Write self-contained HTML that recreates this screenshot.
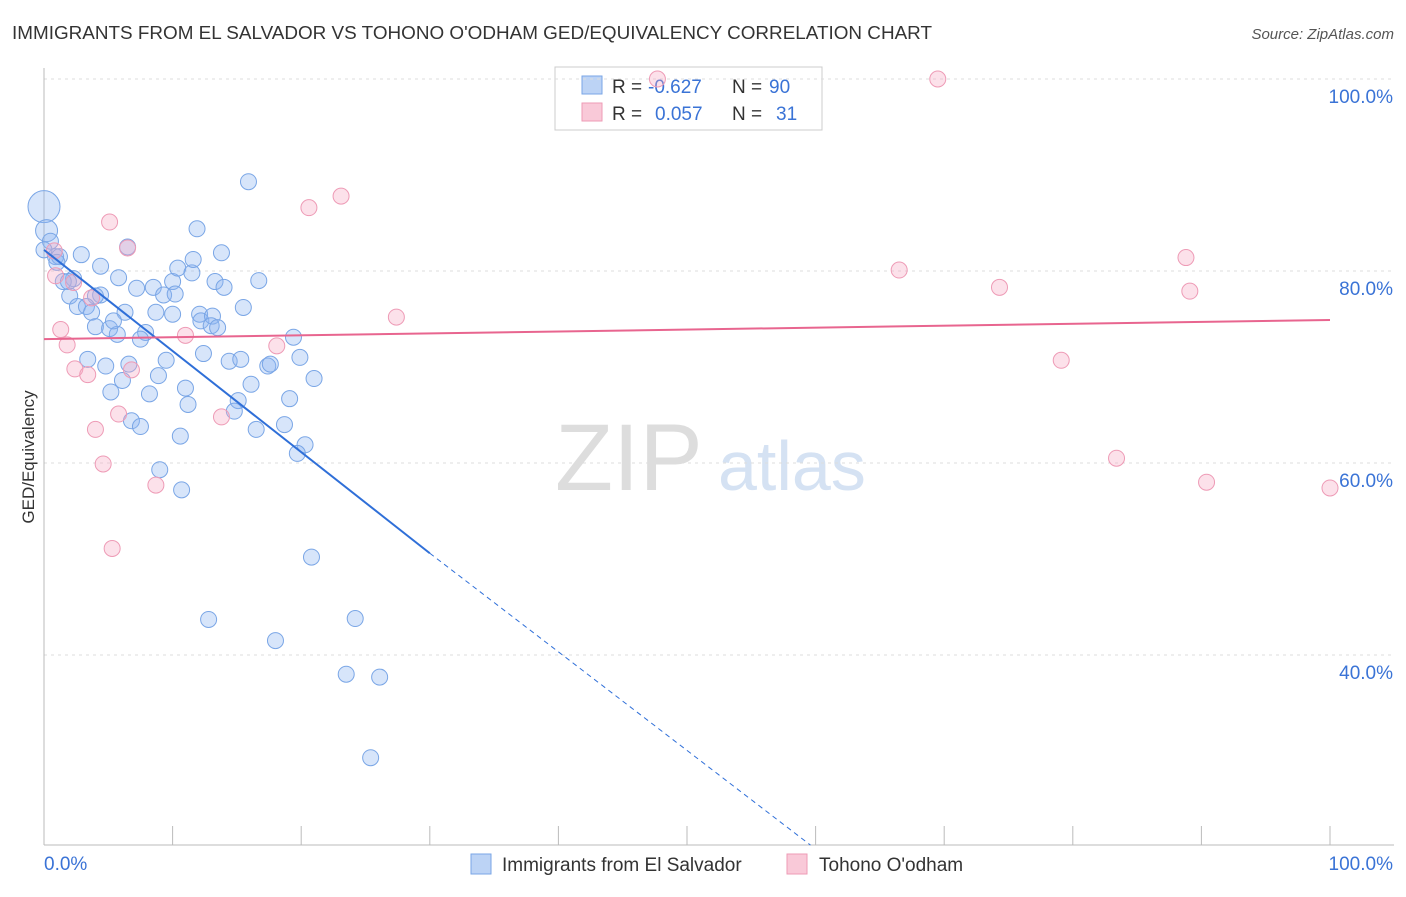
<!DOCTYPE html>
<html><head><meta charset="utf-8"><style>
body{margin:0;background:#fff;font-family:"Liberation Sans",sans-serif;}
svg text{font-family:"Liberation Sans",sans-serif;}
</style></head><body>
<svg id="c" width="1406" height="892">
<text x="12" y="39" font-size="18" fill="#333" textLength="920" lengthAdjust="spacingAndGlyphs">IMMIGRANTS FROM EL SALVADOR VS TOHONO O'ODHAM GED/EQUIVALENCY CORRELATION CHART</text>
<text x="1394" y="39" font-size="15" fill="#555" font-style="italic" text-anchor="end">Source: ZipAtlas.com</text>
<text x="555" y="490" font-size="95" fill="#ddd" font-family="Liberation Serif">ZIP</text>
<text x="718" y="490" font-size="70" fill="#d5e2f3">atlas</text>
<g>
<rect x="555" y="67" width="267" height="63" fill="#fff" stroke="#ccc"/>
<rect x="582" y="76" width="20" height="18" fill="#bcd3f5" stroke="#7aa6e6"/>
<rect x="582" y="103" width="20" height="18" fill="#f9c9d8" stroke="#ee9bb6"/>
<text x="612" y="93" font-size="19" fill="#333">R =</text>
<text x="648" y="93" font-size="19" fill="#3a73d6">-0.627</text>
<text x="732" y="93" font-size="19" fill="#333">N =</text>
<text x="769" y="93" font-size="19" fill="#3a73d6">90</text>
<text x="612" y="120" font-size="19" fill="#333">R =</text>
<text x="655" y="120" font-size="19" fill="#3a73d6">0.057</text>
<text x="732" y="120" font-size="19" fill="#333">N =</text>
<text x="776" y="120" font-size="19" fill="#3a73d6">31</text>
</g>
<g id="grid"></g><g id="marks"></g>
<text transform="translate(34,457) rotate(-90)" font-size="17" fill="#333" text-anchor="middle">GED/Equivalency</text>
<g>
<rect x="471" y="854" width="20" height="20" fill="#bcd3f5" stroke="#7aa6e6"/>
<text x="502" y="871" font-size="19" fill="#333">Immigrants from El Salvador</text>
<rect x="787" y="854" width="20" height="20" fill="#f9c9d8" stroke="#ee9bb6"/>
<text x="819" y="871" font-size="19" fill="#333">Tohono O'odham</text>
</g>
</svg>
<script>
const yTicks=[100,80,60,40];
const yTickLabels=["100.0%","80.0%","60.0%","40.0%"];
const xTickLabels=["0.0%","100.0%"];
const blueX=[0,0.2,0.5,0.9,1.2,2.9,4.4,5.8,2.3,1.5,1.9,2.0,4.4,4.0,2.6,3.3,3.7,4.0,5.1,5.7,6.3,5.4,7.2,8.5,9.3,10.0,10.2,10.4,11.5,11.6,11.9,13.8,13.3,14.0,15.9,16.7,15.5,10.0,8.7,7.9,7.5,12.1,12.2,13.1,13.0,13.5,3.4,4.8,6.6,9.5,8.9,6.1,5.2,8.2,11.0,11.2,12.4,14.4,15.3,17.4,17.6,19.4,19.9,21.0,16.1,15.1,14.8,19.1,18.7,16.5,20.3,19.7,6.8,7.5,10.6,9.0,10.7,20.8,24.2,12.8,18.0,23.5,26.1,25.4,0,1.0,6.5];
const blueY=[86.7,84.2,83.1,81.5,81.5,81.7,80.5,79.3,79.2,78.9,78.9,77.4,77.5,77.4,76.3,76.3,75.7,74.2,74.0,73.4,75.7,74.8,78.2,78.3,77.5,78.9,77.6,80.3,79.8,81.2,84.4,81.9,78.9,78.3,89.3,79.0,76.2,75.5,75.7,73.6,72.9,75.5,74.8,75.3,74.3,74.1,70.8,70.1,70.3,70.7,69.1,68.6,67.4,67.2,67.8,66.1,71.4,70.6,70.8,70.1,70.3,73.1,71.0,68.8,68.2,66.5,65.4,66.7,64.0,63.5,61.9,61.0,64.4,63.8,62.8,59.3,57.2,50.2,43.8,43.7,41.5,38.0,37.7,29.3,82.2,80.9,82.5];
const blueR=[];blueR[0]=16;blueR[1]=11;
const pinkX=[47.7,69.5,5.1,6.5,20.6,23.1,0.8,0.9,2.3,3.7,1.3,1.8,2.4,3.4,6.8,11.0,5.8,13.8,18.1,27.4,4.0,4.6,8.7,5.3,66.5,74.3,88.8,89.1,79.1,83.4,90.4,100];
const pinkY=[100,100,85.1,82.4,86.6,87.8,82.1,79.5,78.8,77.2,73.9,72.3,69.8,69.2,69.7,73.3,65.1,64.8,72.2,75.2,63.5,59.9,57.7,51.1,80.1,78.3,81.4,77.9,70.7,60.5,58.0,57.4];
const X=v=>44+v*12.86, Y=v=>79+(100-v)*9.6;
const ns="http://www.w3.org/2000/svg";
function mk(t,a,p){const e=document.createElementNS(ns,t);for(const k in a)e.setAttribute(k,a[k]);p.appendChild(e);return e;}
const g=document.getElementById('grid'), m=document.getElementById('marks');
yTicks.forEach((t,i)=>{
 const l=mk('line',{x1:44,x2:1394,y1:Y(t),y2:Y(t),stroke:'#ddd','stroke-dasharray':'3,4'},g);
 
 
 const tx=mk('text',{x:1393,y:Y(t)+24,'font-size':19,fill:'#3a73d6','text-anchor':'end'},g);
 tx.textContent=yTickLabels[i];
 
 
});
const ax=mk('line',{x1:44,x2:1394,y1:845,y2:845,stroke:'#bbb'},g);


const ay=mk('line',{x1:44,x2:44,y1:68,y2:845,stroke:'#bbb'},g);


for(let i=0;i<=10;i++){const t=mk('line',{x1:X(i*10),x2:X(i*10),y1:826,y2:845,stroke:'#bbb'},g);
 
 }
[[0,44,'start'],[100,1393,'end']].forEach((d,i)=>{const t=mk('text',{x:d[1],y:870,'font-size':19,fill:'#3a73d6','text-anchor':d[2]},g);t.textContent=xTickLabels[i];
 
 });
blueX.forEach((x,i)=>{const c=mk('circle',{cx:X(x),cy:Y(blueY[i]),r:blueR[i]||8,fill:'rgba(140,180,240,0.35)',stroke:'#7aa6e6','stroke-width':1},m);
 
 });
pinkX.forEach((x,i)=>{const c=mk('circle',{cx:X(x),cy:Y(pinkY[i]),r:8,fill:'rgba(245,170,195,0.35)',stroke:'#ee9bb6','stroke-width':1},m);
 
 });
const bl=mk('line',{x1:X(0),y1:Y(82.2),x2:X(30),y2:Y(50.6),stroke:'#2f6fd8','stroke-width':2},m);


const bd=mk('line',{x1:X(30),y1:Y(50.6),x2:X(59.6),y2:Y(20.2),stroke:'#2f6fd8','stroke-width':1,'stroke-dasharray':'5,4'},m);


const pl=mk('line',{x1:X(0),y1:Y(72.9),x2:X(100),y2:Y(74.9),stroke:'#e8658f','stroke-width':2},m);


</script>
</body></html>
